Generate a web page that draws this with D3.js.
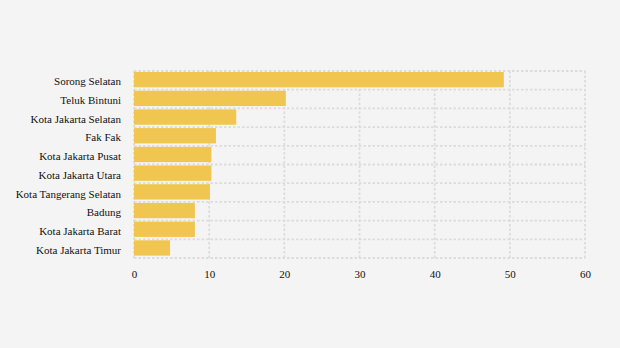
<!DOCTYPE html>
<html>
<head>
<meta charset="utf-8">
<script src="https://cdn.jsdelivr.net/npm/d3@7"></script>
<style>
  html, body { margin: 0; padding: 0; background: #f4f4f4; }
  svg { display: block; }
  svg text { font-family: "Liberation Serif", "DejaVu Serif", serif; }
</style>
</head>
<body>
<svg id="chart" width="620" height="348"></svg>
<script>
const categories = [
  "Sorong Selatan", "Teluk Bintuni", "Kota Jakarta Selatan", "Fak Fak",
  "Kota Jakarta Pusat", "Kota Jakarta Utara", "Kota Tangerang Selatan",
  "Badung", "Kota Jakarta Barat", "Kota Jakarta Timur"
];
const values = [49.2, 20.2, 13.6, 10.9, 10.3, 10.3, 10.1, 8.1, 8.1, 4.8];
const xTicks = [0, 10, 20, 30, 40, 50, 60];

const svg = d3.select("#chart");
const W = 620, H = 348;
const margin = { left: 134, right: 35, top: 71, bottom: 90 };
const font = "Liberation Serif, DejaVu Serif, serif";

svg.append("rect").attr("width", W).attr("height", H).attr("fill", "#f4f4f4");

const x = d3.scaleLinear().domain([0, 60]).range([margin.left, W - margin.right]);
const y = d3.scaleBand().domain(categories).range([margin.top, H - margin.bottom]).padding(0);

const grid = svg.append("g")
  .attr("stroke", "#dcdcdc").attr("stroke-width", 1.8).attr("stroke-dasharray", "2.5,2").attr("fill", "none");

// vertical grid lines
grid.selectAll("line.v").data(xTicks).join("line").attr("class", "v")
  .attr("x1", d => x(d)).attr("x2", d => x(d))
  .attr("y1", y.range()[0]).attr("y2", y.range()[1]);

// horizontal band boundaries
const bounds = categories.map(c => y(c)).concat([y.range()[1]]);
grid.selectAll("line.h").data(bounds).join("line").attr("class", "h")
  .attr("x1", x(0)).attr("x2", x(60))
  .attr("y1", d => d).attr("y2", d => d);

// bars
const barH = y.bandwidth() * 0.82;
svg.append("g").selectAll("rect").data(categories).join("rect")
  .attr("x", x(0))
  .attr("y", d => y(d) + 1)
  .attr("width", (d, i) => x(values[i]) - x(0))
  .attr("height", barH)
  .attr("fill", "#f0c650");

// category labels
const yAxis = svg.append("g").attr("transform", `translate(${margin.left - 13},0)`)
  .call(d3.axisLeft(y).tickSize(0).tickPadding(0));
yAxis.attr("font-family", null);
yAxis.select(".domain").remove();
yAxis.selectAll("text")
  .style("font-family", font).style("font-size", "11px").attr("fill", "#111")
  .attr("dy", "0.45em");

// value axis labels
const xAxis = svg.append("g").attr("transform", `translate(0,${H - margin.bottom})`)
  .call(d3.axisBottom(x).tickValues(xTicks).tickSize(0).tickPadding(12));
xAxis.attr("font-family", null);
xAxis.select(".domain").remove();
xAxis.selectAll("text")
  .style("font-family", font).style("font-size", "11px").attr("fill", "#111");
</script>
</body>
</html>
